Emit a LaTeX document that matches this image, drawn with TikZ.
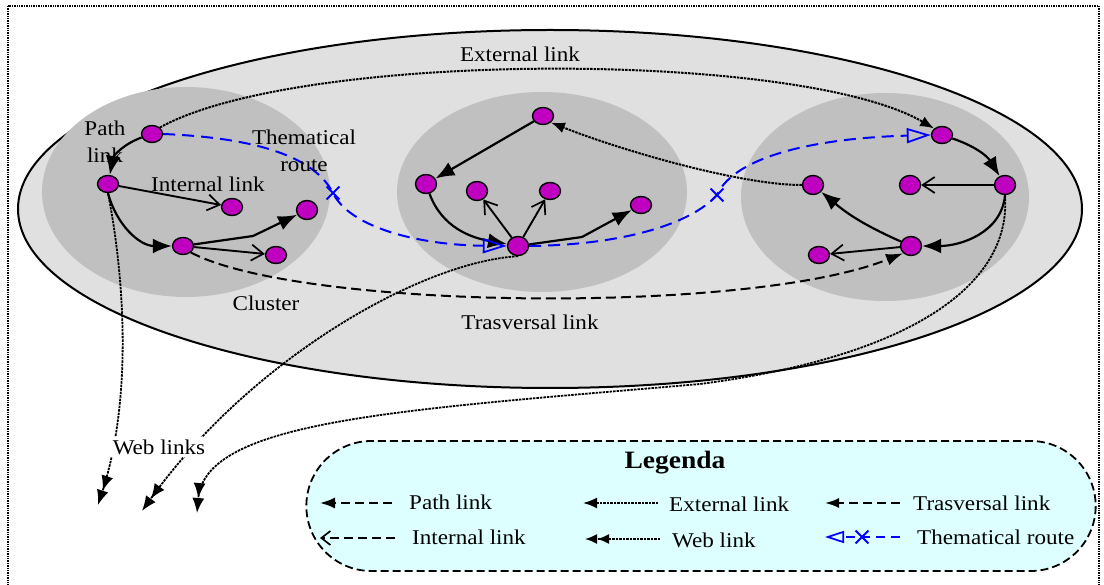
\documentclass[tikz,border=0pt]{standalone}
\usepackage{fontspec}
\setmainfont[FakeStretch=1.1]{Liberation Serif}
\usetikzlibrary{arrows.meta,shapes.geometric,shapes.misc}
\definecolor{outerfill}{HTML}{E0E0E0}
\definecolor{clusterfill}{HTML}{C0C0C0}
\definecolor{nodefill}{HTML}{C000C0}
\definecolor{legfill}{HTML}{DDFFFF}
\begin{document}
\begin{tikzpicture}[x=1pt,y=-1pt,
  pg/.style={ellipse,draw=black,line width=1.4pt,fill=nodefill,minimum width=21pt,minimum height=17pt,inner sep=0pt},
  pathlink/.style={line width=2.2pt,-{Latex[length=19pt,width=15pt]}},
  intlink/.style={line width=1.9pt,-{Straight Barb[length=12pt,width=16pt,line width=1.7pt]}},
  extlink/.style={line width=2pt,dash pattern=on 2.5pt off 1pt,-{Latex[length=14pt,width=11pt]}},
  weblink/.style={line width=1.8pt,dash pattern=on 2.5pt off 1pt,-{Latex[length=15pt,width=12pt]Latex[length=15pt,width=12pt]}},
  travlink/.style={line width=2pt,dash pattern=on 10pt off 5pt,-{Latex[length=17pt,width=12pt]}},
  themroute/.style={draw=blue,line width=2pt,dash pattern=on 12pt off 7pt,-{Triangle[open,length=24pt,width=15pt,line width=1.8pt]}},
  xmark/.style={cross out,draw=blue,line width=1.8pt,minimum size=11pt,inner sep=0pt},
  lbl/.style={font=\fontsize{21}{27}\selectfont,align=center,inner sep=1pt},
  legtxt/.style={font=\fontsize{21}{27}\selectfont,anchor=west,inner sep=0pt},
  legdash/.style={line width=2pt,dash pattern=on 9pt off 5pt},
]
\useasboundingbox (0,0) rectangle (1104,585);
\fill[white] (0,0) rectangle (1104,585);
% frame
\draw[line width=1.4pt,dash pattern=on 1.4pt off 1pt] (8,6) rectangle (1099,600);
% big ellipse and clusters
\draw[fill=outerfill,line width=2pt] (550,209) ellipse [x radius=532pt,y radius=179pt];
\fill[clusterfill] (186,192) ellipse [x radius=144pt,y radius=105pt];
\fill[clusterfill] (542,192) ellipse [x radius=145pt,y radius=100pt];
\fill[clusterfill] (885,197) ellipse [x radius=144pt,y radius=104pt];

% nodes left cluster
\node[pg] (A1) at (152,134) {};
\node[pg] (A2) at (108,184) {};
\node[pg] (A3) at (232,207) {};
\node[pg,minimum height=19pt] (A4) at (307,210) {};
\node[pg] (A5) at (183,246) {};
\node[pg] (A6) at (276,255) {};
% middle cluster
\node[pg] (B1) at (543,116) {};
\node[pg,minimum height=19pt] (B2) at (426,184) {};
\node[pg,minimum height=19pt] (B3) at (477,191) {};
\node[pg] (B4) at (550,191) {};
\node[pg] (B5) at (641,205) {};
\node[pg,minimum height=19pt] (B6) at (518,246) {};
% right cluster
\node[pg] (C1) at (942,135) {};
\node[pg,minimum height=19pt] (C2) at (1005,185) {};
\node[pg,minimum height=19pt] (C3) at (910,185) {};
\node[pg,minimum height=19pt] (C4) at (813,185) {};
\node[pg,minimum height=19pt] (C5) at (911,246) {};
\node[pg] (C6) at (819,255) {};

% helper coordinates
\coordinate (a5k) at (253,236);
\coordinate (b6k) at (582,237);
\coordinate (x1) at (333,193);
\coordinate (x2) at (717,195);
\coordinate (wl1) at (98,505);
\coordinate (wl2) at (142,511);
\coordinate (wlm) at (700,384);
\coordinate (wl3) at (197,513);

% left cluster links
\draw[pathlink] (A1) to[bend right=30] (A2);
\draw[intlink] (A2) -- (A3);
\draw[pathlink] (A2.south) to[out=-75,in=180] (A5);
\draw[pathlink] (A5) -- (a5k) -- (A4);
\draw[intlink] (A5) -- (A6);
% middle cluster links
\draw[pathlink] (B1) -- (B2);
\draw[pathlink] (B2) to[out=-70,in=170] (B6);
\draw[intlink] (B6) -- (B3);
\draw[intlink] (B6) -- (B4);
\draw[pathlink] (B6) -- (b6k) -- (B5);
% right cluster links
\draw[pathlink] (C1) to[bend left=20] (C2);
\draw[intlink] (C2) -- (C3);
\draw[pathlink] (C2.south) to[out=-95,in=0] (C5);
\draw[pathlink] (C5) to[bend left=8] (C4);
\draw[intlink] (C5) -- (C6);

% external links
\draw[extlink] (A1.north east) .. controls (300,50) and (800,50) .. (C1.north west);
\draw[extlink] (C4.west) .. controls (740,185) and (620,150) .. (B1.south east);
% trasversal link
\draw[travlink] (A5.south east) .. controls (300,310) and (750,315) .. (C5.south west);
% web links
\draw[weblink] (A2.south) .. controls (125,280) and (132,400) .. (wl1);
\draw[weblink] (B6.south) .. controls (420,262) and (250,360) .. (wl2);
\draw[weblink] (C2.south) .. controls (1012,290) and (900,358) .. (wlm) .. controls (400,410) and (205,420) .. (wl3);
% thematical route
\draw[themroute] (A1.east) .. controls (260,138) and (315,158) .. (x1) .. controls (350,228) and (420,245) .. (B6.west);
\draw[themroute] (B6.east) .. controls (620,245) and (690,225) .. (x2) .. controls (735,155) and (820,138) .. (C1.west);
\node[xmark] (xm1) at (x1) {};
\node[xmark] (xm2) at (x2) {};

% labels
\node[lbl] (lext) at (520,54) {External link};
\node[lbl] (lpath) at (105,142) {Path\\link};
\node[lbl] (lthem) at (304,151) {Thematical\\route};
\node[lbl] (lint) at (208,184) {Internal link};
\node[lbl] (lclu) at (266,303) {Cluster};
\node[lbl] (ltrav) at (530,322) {Trasversal link};
\node[lbl,fill=white,inner sep=3pt] (lweb) at (159,447) {Web links};

% legend
\node[rounded rectangle,draw=black,line width=1.8pt,dash pattern=on 8pt off 4pt,fill=legfill,minimum width=796pt,minimum height=130pt] (leg) at (701,506) {};
\node[font=\fontsize{25}{30}\selectfont\bfseries] (legt) at (675,463) {Legenda};
\coordinate (lp0) at (320,503); \coordinate (lp1) at (392,503);
\coordinate (le0) at (583,503); \coordinate (le1) at (658,503);
\coordinate (lt0) at (825,503); \coordinate (lt1) at (900,503);
\coordinate (li0) at (320,538); \coordinate (li1) at (395,538);
\coordinate (lw0) at (585,539); \coordinate (lw1) at (660,539);
\coordinate (lh0) at (825,537); \coordinate (lh1) at (900,537);
\coordinate (lhx) at (862,537);
\draw[legdash,-{Latex[length=15pt,width=11pt]}] (lp1) -- (lp0);
\draw[extlink] (le1) -- (le0);
\draw[legdash,-{Latex[length=14pt,width=10pt]}] (lt1) -- (lt0);
\draw[legdash,-{Straight Barb[length=9pt,width=14pt,line width=1.7pt]}] (li1) -- (li0);
\draw[weblink,-{Latex[length=12pt,width=10pt]Latex[length=12pt,width=10pt]}] (lw1) -- (lw0);
\draw[themroute,dash pattern=on 9pt off 6pt,-{Triangle[open,length=19pt,width=12pt,line width=1.7pt]}] (lh1) -- (lh0);
\node[xmark] (lxm) at (lhx) {};
\node[legtxt] (tp) at (409,502) {Path link};
\node[legtxt] (te) at (669,504) {External link};
\node[legtxt] (tt) at (913,503) {Trasversal link};
\node[legtxt] (ti) at (412,537) {Internal link};
\node[legtxt] (tw) at (672,540) {Web link};
\node[legtxt] (th) at (917,537) {Thematical route};
\end{tikzpicture}
\end{document}
